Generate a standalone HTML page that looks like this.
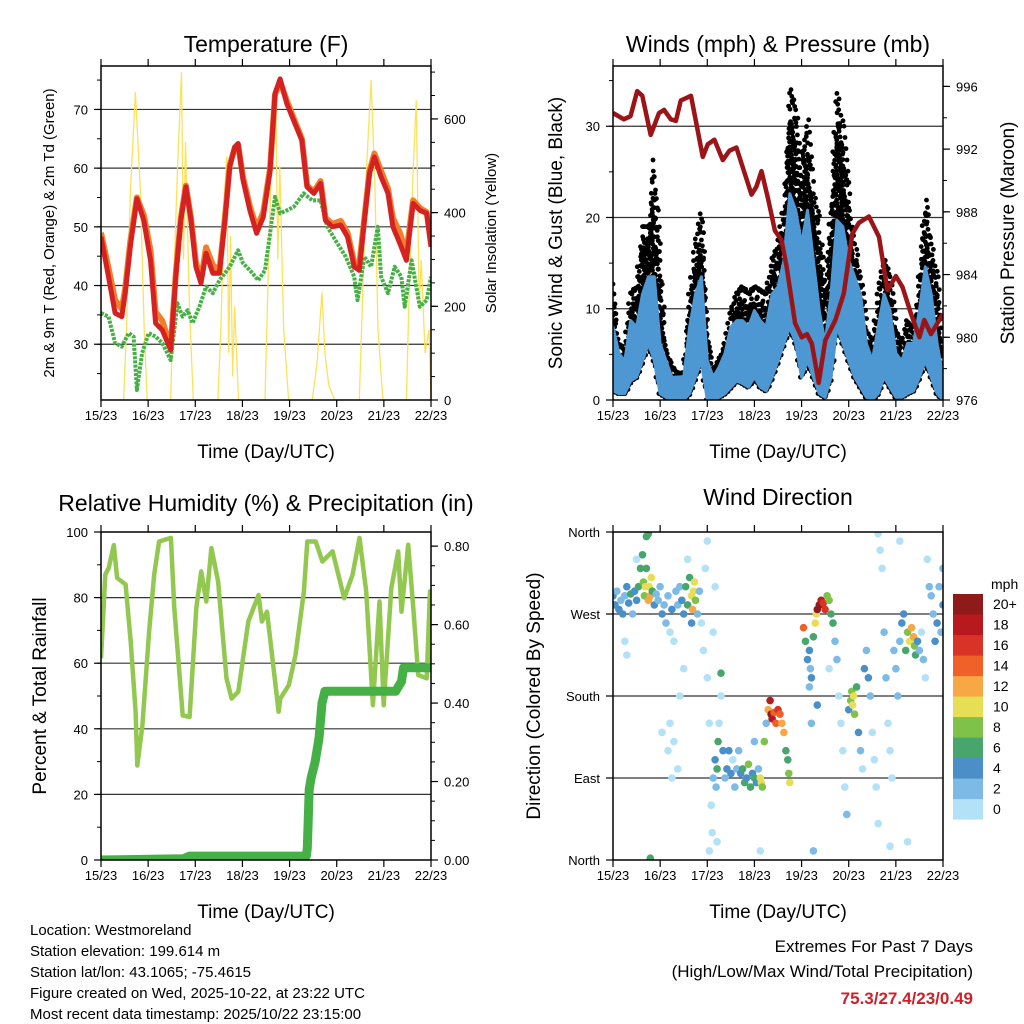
<!DOCTYPE html>
<html><head><meta charset="utf-8"><style>
html,body{margin:0;padding:0;background:#fff;}
svg{display:block;font-family:"Liberation Sans",sans-serif;}
</style></head><body>
<svg id="c" width="1024" height="1024" viewBox="0 0 1024 1024" xmlns="http://www.w3.org/2000/svg">
<defs>
<clipPath id="cT"><rect x="101" y="66" width="330" height="334"/></clipPath>
<clipPath id="cW"><rect x="613" y="66" width="330" height="334"/></clipPath>
<clipPath id="cR"><rect x="101" y="532" width="330" height="328"/></clipPath>
<clipPath id="cD"><rect x="613" y="532" width="330" height="328"/></clipPath>
</defs>
<text x="266" y="52" font-size="23" text-anchor="middle">Temperature (F)</text>
<text x="778" y="52" font-size="23" text-anchor="middle">Winds (mph) &amp; Pressure (mb)</text>
<text x="266" y="511" font-size="23" text-anchor="middle">Relative Humidity (%) &amp; Precipitation (in)</text>
<text x="778" y="505" font-size="23" text-anchor="middle">Wind Direction</text>
<text x="266" y="458" font-size="19" text-anchor="middle">Time (Day/UTC)</text>
<text x="778" y="458" font-size="19" text-anchor="middle">Time (Day/UTC)</text>
<text x="266" y="918" font-size="19" text-anchor="middle">Time (Day/UTC)</text>
<text x="778" y="918" font-size="19" text-anchor="middle">Time (Day/UTC)</text>
<text transform="translate(54,233) rotate(-90)" font-size="15" text-anchor="middle">2m &amp; 9m T (Red, Orange) &amp; 2m Td (Green)</text>
<text transform="translate(496,233) rotate(-90)" font-size="15" text-anchor="middle">Solar Insolation (Yellow)</text>
<text transform="translate(562,233) rotate(-90)" font-size="19" text-anchor="middle">Sonic Wind &amp; Gust (Blue, Black)</text>
<text transform="translate(1014,233) rotate(-90)" font-size="19" text-anchor="middle">Station Pressure (Maroon)</text>
<text transform="translate(46,696) rotate(-90)" font-size="19" text-anchor="middle">Percent &amp; Total Rainfall</text>
<text transform="translate(540,696) rotate(-90)" font-size="19" text-anchor="middle">Direction (Colored By Speed)</text>
<g font-size="15">
<text x="30" y="935">Location: Westmoreland</text>
<text x="30" y="956">Station elevation: 199.614 m</text>
<text x="30" y="977">Station lat/lon: 43.1065; -75.4615</text>
<text x="30" y="998">Figure created on Wed, 2025-10-22, at 23:22 UTC</text>
<text x="30" y="1019">Most recent data timestamp: 2025/10/22 23:15:00</text>
</g>
<g text-anchor="end">
<text x="973" y="952" font-size="17">Extremes For Past 7 Days</text>
<text x="973" y="977" font-size="17">(High/Low/Max Wind/Total Precipitation)</text>
<text x="973" y="1004" font-size="17" font-weight="bold" fill="#cc2229">75.3/27.4/23/0.49</text>
</g>
</svg>
<script>
// ---------- data ----------
const dayLabels=['15/23','16/23','17/23','18/23','19/23','20/23','21/23','22/23'];
const tempTicks=[30,40,50,60,70];
const solarTicks=[0,200,400,600];
const windTicks=[0,10,20,30];
const presTicks=[976,980,984,988,992,996];
const rhTicks=[0,20,40,60,80,100];
const rainTicks=[0,0.2,0.4,0.6,0.8];
const rainTickLabels=['0.00','0.20','0.40','0.60','0.80'];
const dirTicks=[0,90,180,270,360];
const dirLabels=['North','East','South','West','North'];
const speedBins=['0','2','4','6','8','10','12','14','16','18','20+'];

const tH=[0,3.8,7.2,10.6,12.3,14.9,18.3,21.8,25.2,27.8,31.2,35.5,38.1,40.6,43.2,45.8,48.3,50.9,53.5,56.9,60.3,63.1,65.5,68.1,69.8,72.3,75.8,79.2,82.6,86.1,88.6,91.2,94.6,98.1,102.3,104.9,108.4,111.8,114.3,117.8,122.1,125.5,128.9,131.5,134.1,136.7,139.2,142.6,146.1,148.6,152.1,155.5,158.9,162.4,165.8,168];
const temp2m=[48.3,41.5,35.3,34.7,38.7,46.6,54.8,51.1,44.3,33.6,32.4,29,41.5,51.1,56.8,51.1,43.2,40.4,45.5,42.1,42.1,51.1,60.2,63.6,64.2,58,52.8,48.9,51.7,59.6,72.7,75.2,71,68.1,64.7,56.8,55.7,57.4,51.1,50,50.3,48.3,43.2,42.6,51.1,59.1,61.9,58.5,55.7,50,47.2,44.3,54,52.8,52.3,46.6];
const temp9m=[49,43,37.5,36,39.5,47.5,55,52,46,35.5,34,29.5,42,51.5,57,51.5,44,41,46.5,43.5,42.5,51.5,60.5,63.5,64,58.5,53.5,49.8,52.5,60,72.5,74.8,71.5,68.5,65,57,56,57.8,51.5,50.5,51,49,44,43.5,51.5,59.5,62.5,59.5,56.5,51.5,49,45.5,54.5,53.2,52.5,47.2];
const tdH=[0,3.8,7.2,10.6,14.1,16.6,18.3,20.9,24.3,27.8,31.2,35.5,38.9,41.5,44.1,46.6,50.1,53.5,56.9,60.3,65.5,69.8,72.3,75.8,80.1,83.5,86.1,88.6,91.2,94.6,98.1,103.2,107.5,111.8,115.2,120.3,124.6,128.9,130.6,134.1,137.5,140.9,142.6,146.1,149.5,152.9,154.6,158.1,162.3,165.8,168];
const dewpt=[35.3,34.7,30.2,29.6,31.9,31.3,22.2,28.5,31.9,31.3,30.2,27.3,37,34.7,35.8,33.6,36.4,39.8,38.7,40.9,43.2,46,43.8,42.6,40.9,42.6,48.9,55.1,52.3,52.8,53.4,55.7,54.5,54.5,50,47.2,44.9,41.5,37.5,44.9,43.2,50,41.5,38.7,43.2,41.5,36.4,44.3,36.4,37.5,41.5];
const solarH=[0,11.5,13,15,17.5,20,22,23.5,35.5,37,39,41,42,43,45,47,59.5,61,63,64,65,66,67,68,70,83.5,85,87,89,90,91,93,95.5,107.5,110,111.5,112.5,114,116,119,131.5,133,135,137.5,139.5,141,143.5,155.5,157,159,160.5,162,163,165,167,168];
const solar=[0,0,150,450,657,450,150,0,0,250,500,700,300,550,200,0,0,150,450,520,100,350,50,200,0,0,250,550,640,300,500,150,0,0,80,170,230,100,30,0,0,200,480,683,450,150,0,0,250,500,640,200,300,100,150,0];

const windH=[0,3,6,9,12,15,18,21,24,27,30,33,36,39,42,45,48,51,54,57,60,63,66,69,72,75,78,81,84,87,90,93,96,99,102,105,108,111,114,117,120,123,126,129,132,135,138,141,144,147,150,153,156,159,162,165,168];
const windLo=[1,0.7,0.7,2.1,2.5,4.3,6.2,4.3,0.7,0.3,0.1,0,0,0.7,2.5,4.3,0,0,0.3,0.7,1.4,2.1,1.8,1.4,2.5,1.4,1,2.5,4.3,6.2,8,6.2,2.5,4.3,2.5,0.7,0.3,2.5,8,6.2,4.3,2.5,1.4,0.3,0,0.7,2.5,1.4,0.3,0.3,0.7,1,2.5,4.3,2.5,0.7,0];
const windHi=[8,5.1,4.3,8.7,8,11.6,13.5,13.5,6.2,4.3,2.5,2.5,2.5,8,11.6,13.5,4.3,2.5,3.6,5.1,8,8.7,8.7,8,9.8,8.7,8,11.6,12.4,15.3,22.6,20.8,17.1,20.8,15.3,9.8,6.2,11.6,19.7,19,15.3,13.5,11.6,6.2,4.3,8,11.6,9.8,5.1,4.3,6.2,6.2,9.8,14.6,11.6,6.2,2.5];
const gust=[12.7,6.2,5.4,11.6,12.4,19,19,26.3,15.3,5.1,3.6,2.9,3,11.6,17.1,20.4,8,3.2,4.3,6.2,9.5,11.6,12.4,11.6,12.4,12,11.6,15.3,16.8,21.2,34,31.8,26.3,30.7,22.6,19.7,11.6,20.8,33.6,30,22.6,17.1,13.5,8,5.8,11.6,15.3,13.5,8,5.8,8.7,7.3,13.5,21.9,17.1,13.5,5.1];
const presH=[0,5.5,8.9,12.3,14.9,19.2,23.4,26,29.4,32,34.5,39.7,45.7,48.2,51.6,55.9,59.3,62.8,70.5,73,75.6,79,82.4,85.8,88.4,92.7,96.1,98.7,101.2,104.7,108.1,113.2,117.5,121.8,125.2,130.3,135.4,139.7,144,147.4,151.7,156,158.5,161.9,168];
const pressure=[994.3,993.9,994.1,995.7,995.4,992.9,994.3,994.5,993.9,993.8,995.1,995.4,991.5,992.3,992.6,991.3,991.9,992.1,989.1,989.6,990.6,988.8,986.8,986.2,984.5,980.9,980,980.2,979.6,977.1,979.8,981.1,982.8,986.6,987.3,987.7,986.4,983,983.9,983.2,981.5,980,981.1,980.2,981.5];

const rhH=[0,2.2,3.9,6.5,8.2,12.5,15.1,17.6,18.5,21.1,24.5,27.1,29.6,35.6,37.3,41.6,45.1,48.5,51,53.6,56.2,59.6,63.9,66.5,69.9,75,80.2,81.9,84.5,90.4,91.3,95.6,99,103.3,105,109.3,112.7,117.9,123.8,128.1,131.6,135,138.4,141.8,143.9,147.8,151.3,153,156.4,159,161.5,165.8,167.5,168];
const rh=[61.5,87,89,96,86,84,66.6,45.2,28.8,41,69.6,87,97.1,98.2,76.8,44.1,43.6,76.8,88,78.8,95.1,84.9,55.4,49.2,51.3,72.7,80.8,72.7,75.7,45.2,49.2,53.3,62.5,81.9,97.1,97.1,91,94.1,79.8,87,98.2,81.9,47.2,78.8,47.2,82.9,94.1,75.7,96.1,76.8,56.4,55.4,81.9,58.4];
const rainH=[0,42,45,104.5,105,105.5,106,107,109,111,112.5,114,118,150,153,154,168];
const rain=[0,0.003,0.01,0.01,0.03,0.1,0.18,0.21,0.25,0.31,0.4,0.43,0.43,0.43,0.455,0.49,0.49];

const wdH=[0,1,2,3,4,5,6,7,8,9,10,11,12,13,14,15,15.5,16,16.5,17,18,18.5,19,19.5,20,21,22,6,7,12,17,18,19,
23,24,25,26,27,28,29,30,31,32,33,34,35,36,37,38,39,40,40.5,41,41.5,42,43,44,45,46,47,48,28,29,30,31,33,34,36,38,40,25,
48,49,50,50.5,51,52,52.5,53,53.5,54,55,55,56,57,58,59,60,61,62,63,64,49,53,52,51,
65,66,67,68,69,70,71,72,73,74,75,75.5,76,77,78,79,80,80.5,81,82,83,84,85,86,87,88,89,89.5,90,72,75,
97,98,99,100,100.5,101,102,103,103.5,104,105,106,107,108,109,110,111,112,113,114,115,116,117,118,119,110,104,100,101,102,
120,121,121.5,122,122.5,123,124,125,126,127,128,129,130,131,132,133,134,135,136,137,138,139,140,141,142,143,144,145,146,147,148,149,150,151,152,153,153.5,154,155,156,157,158,159,160,161,162,163,164,165,166,167,168,168,146,150,135,141];
const wdDir=[290,280,295,275,285,270,290,300,282,292,270,295,285,300,320,335,305,290,300,320,285,300,290,310,295,280,292,240,225,330,355,358,2,
285,300,270,280,260,290,250,275,240,295,280,300,285,270,300,280,310,290,275,295,305,285,270,295,260,230,320,350,120,150,90,130,100,180,210,330,260,140,
200,150,60,30,90,110,80,100,130,150,180,205,120,90,100,120,95,110,80,100,120,10,20,300,250,
95,100,85,90,105,80,95,90,85,100,90,85,80,130,150,165,175,160,155,162,150,165,160,150,140,120,110,95,85,130,10,
255,240,220,230,210,200,245,260,270,275,280,285,282,275,290,285,270,260,240,220,180,150,120,80,50,210,170,190,150,10,
165,175,185,170,180,160,190,140,120,100,210,230,200,180,140,110,80,40,340,320,250,200,150,120,90,230,210,180,240,260,270,230,250,240,255,245,235,225,240,230,250,220,200,330,300,290,270,240,260,300,250,320,280,350,20,358,15];
const wdSpd=[4,4,3,4,2,4,3,5,4,6,2,4,5,6,7,6,8,9,10,7,12,11,13,10,6,4,3,1,1,1,6,7,7,
3,2,4,3,2,2,1,4,1,3,2,3,4,5,6,7,7,10,12,11,10,9,3,2,1,1,1,1,1,1,0,1,1,1,1,1,4,1,
1,0,0,1,2,4,3,6,6,1,0,7,4,3,4,4,4,1,2,2,2,1,0,1,1,
5,6,6,4,8,6,5,6,4,2,11,10,9,8,2,13,19,20,18,15,14,16,15,13,12,6,7,9,10,2,1,
15,7,4,5,3,4,6,10,11,20,20,19,17,16,8,8,7,6,2,2,1,1,1,1,2,0,4,3,2,2,
4,8,9,10,11,8,6,4,2,1,4,3,4,2,1,1,1,1,1,1,3,2,1,1,1,3,2,3,2,4,5,6,8,10,12,13,9,7,4,2,1,2,1,1,2,3,3,5,4,3,2,3,4,1,1,1,1];
const speedColors=['#b3e1f7','#7dbbe6','#4a8fc8','#48a66d','#7ec24a','#e6df55','#f7a844','#ef6129','#d93226','#b8191f','#8f1a1a'];

// ---------- helpers ----------
const NS='http://www.w3.org/2000/svg';
const svg=document.getElementById('c');
function mk(tag,attrs,parent){const e=document.createElementNS(NS,tag);for(const k in attrs)e.setAttribute(k,attrs[k]);(parent||svg).appendChild(e);return e;}
function lin(d0,d1,r0,r1){return v=>r0+(v-d0)/(d1-d0)*(r1-r0);}
function pathD(xs,ys,fx,fy){return xs.map((h,i)=>(i?'L':'M')+fx(h).toFixed(1)+','+fy(ys[i]).toFixed(1)).join('');}

const panels={
 T:{x0:101,x1:431,y0:66,y1:400},
 W:{x0:613,x1:943,y0:66,y1:400},
 R:{x0:101,x1:431,y0:532,y1:860},
 D:{x0:613,x1:943,y0:532,y1:860}
};
function xScale(p){return lin(0,168,p.x0,p.x1);}

function drawAxes(key,p,leftScale,leftTicks,leftLabels,leftMinor,gridTicks,rightScale,rightTicks,rightLabels,rightMinor){
 const g=mk('g',{});
 
 
 const fx=xScale(p);
 gridTicks.forEach(v=>{const y=leftScale(v);
  const l=mk('line',{x1:p.x0,x2:p.x1,y1:y,y2:y,stroke:'#333',"stroke-width":1.2},g);
  
  });
 dayLabels.forEach((lab,i)=>{const x=fx(i*24);
  mk('line',{x1:x,x2:x,y1:p.y1,y2:p.y1+7,stroke:'#000',"stroke-width":1.2},g);
  mk('line',{x1:x,x2:x,y1:p.y0,y2:p.y0-7,stroke:'#000',"stroke-width":1.2},g);
  const t=mk('text',{x:x,y:p.y1+20,"font-size":13,"text-anchor":"middle"},g);
  t.textContent=lab;
  
  });
 leftMinor.forEach(v=>{const y=leftScale(v);mk('line',{x1:p.x0,x2:p.x0-4,y1:y,y2:y,stroke:'#000'},g);});
 leftTicks.forEach((v,i)=>{const y=leftScale(v);
  mk('line',{x1:p.x0,x2:p.x0-7,y1:y,y2:y,stroke:'#000',"stroke-width":1.2},g);
  const t=mk('text',{x:p.x0-13,y:y+5,"font-size":13,"text-anchor":"end"},g);
  t.textContent=leftLabels[i];
  
  });
 if(rightScale){
  rightMinor.forEach(v=>{const y=rightScale(v);mk('line',{x1:p.x1,x2:p.x1+4,y1:y,y2:y,stroke:'#000'},g);});
  rightTicks.forEach((v,i)=>{const y=rightScale(v);
   mk('line',{x1:p.x1,x2:p.x1+7,y1:y,y2:y,stroke:'#000',"stroke-width":1.2},g);
   const t=mk('text',{x:p.x1+13,y:y+5,"font-size":13,"text-anchor":"start"},g);
   t.textContent=rightLabels[i];
   
   });
 }
 return g;
}
function frame(p,key){const r=mk('rect',{x:p.x0,y:p.y0,width:p.x1-p.x0,height:p.y1-p.y0,fill:'none',stroke:'#000',"stroke-width":1.5});
 
 }
function range(a,b,s){const o=[];for(let v=a;v<=b+1e-9;v+=s)o.push(+v.toFixed(3));return o;}

// ---------- Temperature ----------
{const p=panels.T;const fx=xScale(p);const fy=lin(20.5,77.4,p.y1,p.y0);const fs=lin(0,713,p.y1,p.y0);
 drawAxes('temperature',p,fy,tempTicks,tempTicks.map(String),range(25,75,5),tempTicks,fs,solarTicks,solarTicks.map(String),range(0,700,50));
 const g=mk('g',{"clip-path":"url(#cT)"});
 
 
 const s=mk('path',{d:pathD(solarH,solar,fx,fs),fill:'none',stroke:'#fde15a',"stroke-width":1.3},g);
 
 
 const d=mk('path',{d:pathD(tdH,dewpt,fx,fy),fill:'none',stroke:'#45b045',"stroke-width":4,"stroke-dasharray":"3 1.2","stroke-linejoin":"round"},g);
 
 
 const o=mk('path',{d:pathD(tH,temp9m,fx,fy),fill:'none',stroke:'#f07e2a',"stroke-width":6,"stroke-linejoin":"round"},g);
 
 
 const r=mk('path',{d:pathD(tH,temp2m,fx,fy),fill:'none',stroke:'#d42222',"stroke-width":5,"stroke-linejoin":"round"},g);
 
 
 frame(p,'temperature');}

// ---------- Winds ----------
{const p=panels.W;const fx=xScale(p);const fy=lin(0,36.6,p.y1,p.y0);const fp=lin(976,997.3,p.y1,p.y0);
 drawAxes('winds',p,fy,windTicks,windTicks.map(String),range(0,35,5),[10,20,30],fp,presTicks,presTicks.map(String),range(976,997,2));
 const g=mk('g',{"clip-path":"url(#cW)"});
 
 
 // gust dots: scatter between sustained low and gust value for each interval
 const gd=mk('g',{fill:'#000'},g);
 
 
 for(let i=0;i<windH.length-1;i++){
  for(let s=0;s<6;s++){
   const f=s/6;
   const h=windH[i]+f*(windH[i+1]-windH[i]);
   const lo=windLo[i]+f*(windLo[i+1]-windLo[i]);
   const hiG=gust[i]+f*(gust[i+1]-gust[i]);
   const n=Math.max(2,Math.round((hiG-lo)/0.9));
   for(let k=0;k<=n;k++){
    const v=lo+(hiG-lo)*k/n*(k===n?1:(0.85+0.15*((k*7+s*3)%5)/4));
    const c=mk('circle',{cx:(fx(h)+((k+s)%3-1)*1.2).toFixed(1),cy:fy(v).toFixed(1),r:2.4},gd);
    
    
   }
  }
 }
 const top2=windH.map((h,i)=>fx(h).toFixed(1)+','+fy(windHi[i]).toFixed(1));
 const bot=windH.map((h,i)=>fx(h).toFixed(1)+','+fy(windLo[i]).toFixed(1)).reverse();
 const bb=mk('polygon',{points:top2.concat(bot).join(' '),fill:'#4d97d3',stroke:'#4d97d3',"stroke-width":3,"stroke-linejoin":"round"},g);
 
 
 const pr=mk('path',{d:pathD(presH,pressure,fx,fp),fill:'none',stroke:'#9b1518',"stroke-width":4.5,"stroke-linejoin":"round"},g);
 
 
 frame(p,'winds');}

// ---------- RH & rain ----------
{const p=panels.R;const fx=xScale(p);const fy=lin(0,100,p.y1,p.y0);const fr=lin(0,0.836,p.y1,p.y0);
 drawAxes('humidity',p,fy,rhTicks,rhTicks.map(String),range(0,100,10),[20,40,60,80],fr,rainTicks,rainTickLabels,range(0,0.8,0.05));
 const g=mk('g',{"clip-path":"url(#cR)"});
 
 
 const l=mk('path',{d:pathD(rhH,rh,fx,fy),fill:'none',stroke:'#92c850',"stroke-width":4.5,"stroke-linejoin":"round"},g);
 
 
 const r=mk('path',{d:pathD(rainH,rain,fx,fr),fill:'none',stroke:'#45b045',"stroke-width":9,"stroke-linejoin":"round","stroke-linecap":"round"},g);
 
 
 frame(p,'humidity');}

// ---------- Wind direction ----------
{const p=panels.D;const fx=xScale(p);const fy=lin(0,360,p.y1,p.y0);
 drawAxes('wind-direction',p,fy,dirTicks,dirLabels,[],[90,180,270],null);
 const g=mk('g',{"clip-path":"url(#cD)"});
 
 
 wdH.forEach((h,i)=>{const bin=Math.min(10,Math.floor(wdSpd[i]/2));
  const c=mk('circle',{cx:fx(h).toFixed(1),cy:fy(wdDir[i]).toFixed(1),r:3.8,fill:speedColors[bin]},g);
  
  });
 frame(p,'wind-direction');
 const lg=mk('g',{});
 
 
 const u=mk('text',{x:991,y:589,"font-size":14},lg);
 u.textContent='mph';
 speedBins.forEach((lab,i)=>{const y=594+(10-i)*20.5;
  const b=mk('rect',{x:953,y:y,width:30,height:20.6,fill:speedColors[i]},lg);
  
  
  const t=mk('text',{x:993,y:y+15,"font-size":14},lg);
  t.textContent=lab;
  
  });
}
</script>
</body></html>
